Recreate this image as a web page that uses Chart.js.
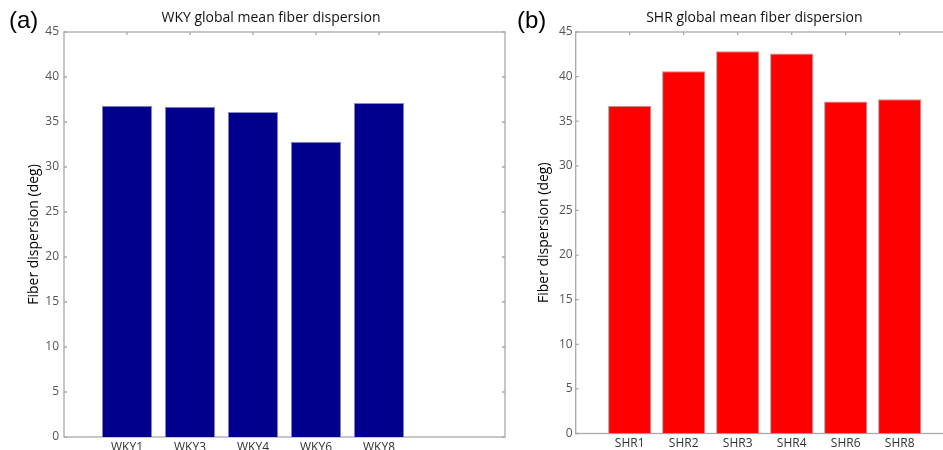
<!DOCTYPE html>
<html>
<head>
<meta charset="utf-8">
<script src="https://cdn.jsdelivr.net/npm/chart.js@4.4.0/dist/chart.umd.min.js"></script>
<style>
  html, body { margin: 0; padding: 0; background: #fff; }
  body { width: 943px; height: 450px; overflow: hidden; position: relative; }
  .panel { position: absolute; top: 0; }
  .tag { position: absolute; top: 6px; font: 24px "Liberation Sans", Arial, sans-serif; color: #000; }
</style>
</head>
<body>
<div class="panel" style="left:0"><canvas id="wky" width="520" height="450"></canvas></div>
<div class="panel" style="left:520px"><canvas id="shr" width="450" height="450"></canvas></div>
<span class="tag" style="left:9px">(a)</span>
<span class="tag" style="left:517px">(b)</span>

<script>
// data
const wkyLabels = [`WKY1`, `WKY3`, `WKY4`, `WKY6`, `WKY8`];
const wkyValues = [36.8, 36.7, 36.1, 32.8, 37.1];

const shrLabels = [`SHR1`, `SHR2`, `SHR3`, `SHR4`, `SHR6`, `SHR8`];
const shrValues = [36.7, 40.6, 42.85, 42.6, 37.2, 37.45];

const yTicks = [0, 5, 10, 15, 20, 25, 30, 35, 40, 45];

const FONT = `"Open Sans", sans-serif`;
const AXIS_COLOR = `#a9a9a9`;
const TICK_LEN = 3;

// matlab-like box with inward ticks
const matlabBox = {
  id: `matlabBox`,
  beforeDatasetsDraw(chart) {
    const {ctx, chartArea: {left, right, top, bottom}, scales: {x, y}} = chart;
    ctx.save();
    ctx.strokeStyle = AXIS_COLOR;
    ctx.lineWidth = 1.3;
    ctx.strokeRect(left, top, right - left, bottom - top);
    ctx.beginPath();
    yTicks.forEach((v) => {
      const py = y.getPixelForValue(v);
      ctx.moveTo(left, py);
      ctx.lineTo(left + TICK_LEN, py);
      ctx.moveTo(right, py);
      ctx.lineTo(right - TICK_LEN, py);
    });
    chart.data.datasets[0].data.forEach((d) => {
      const px = x.getPixelForValue(d.x);
      ctx.moveTo(px, top);
      ctx.lineTo(px, top + TICK_LEN);
      ctx.moveTo(px, bottom);
      ctx.lineTo(px, bottom - TICK_LEN);
    });
    ctx.stroke();
    ctx.restore();
  }
};

const makeChart = (canvasId, cfg) => {
  const {labels, values, color, edge, title, padLeft, padRight, yWidth, xHeight, yTitlePad, yTickPad} = cfg;
  const points = values.map((v, i) => ({x: i + 1, y: v}));

  return new Chart(document.getElementById(canvasId), {
    type: `bar`,
    data: {
      datasets: [{
        data: points,
        backgroundColor: color,
        hoverBackgroundColor: color,
        borderColor: edge,
        borderWidth: 1,
        barPercentage: 0.8,
        categoryPercentage: 1
      }]
    },
    options: {
      responsive: false,
      animation: false,
      events: [],
      layout: {padding: {left: padLeft, right: padRight, top: 0, bottom: 0}},
      plugins: {
        legend: {display: false},
        tooltip: {enabled: false},
        title: {
          display: true,
          text: title,
          color: `#111`,
          font: {family: FONT, size: 14, weight: `normal`},
          padding: {top: 9.6, bottom: 5.6}
        }
      },
      scales: {
        x: {
          type: `linear`,
          min: 0,
          max: 7,
          offset: false,
          grid: {display: false, drawTicks: false},
          border: {display: false},
          ticks: {
            stepSize: 1,
            autoSkip: false,
            maxRotation: 0,
            padding: 3,
            color: `#333`,
            font: {family: FONT, size: 12},
            callback: (v) => labels[v - 1] || ``
          },
          afterFit: (scale) => { scale.height = xHeight; }
        },
        y: {
          min: 0,
          max: 45,
          grid: {display: false, drawTicks: false},
          border: {display: false},
          ticks: {
            stepSize: 5,
            padding: yTickPad,
            color: `#555`,
            font: {family: FONT, size: 12}
          },
          title: {
            display: true,
            text: `Fiber dispersion (deg)`,
            color: `#000`,
            font: {family: FONT, size: 14},
            padding: {top: yTitlePad, bottom: 0}
          },
          afterFit: (scale) => { scale.width = yWidth; }
        }
      }
    },
    plugins: [matlabBox]
  });
};

makeChart(`wky`, {
  labels: wkyLabels,
  values: wkyValues,
  color: `#00008c`,
  edge: `#8c8cc0`,
  title: `WKY global mean fiber dispersion`,
  padLeft: 37,
  padRight: 15,
  yWidth: 27,
  xHeight: 13,
  yTitlePad: -11.4,
  yTickPad: 5
});

makeChart(`shr`, {
  labels: shrLabels,
  values: shrValues,
  color: `#ff0000`,
  edge: `#c88c8c`,
  title: `SHR global mean fiber dispersion`,
  padLeft: 35,
  padRight: 16.3,
  yWidth: 20.7,
  xHeight: 16.5,
  yTitlePad: -18.9,
  yTickPad: 3
});
</script>
</body>
</html>
